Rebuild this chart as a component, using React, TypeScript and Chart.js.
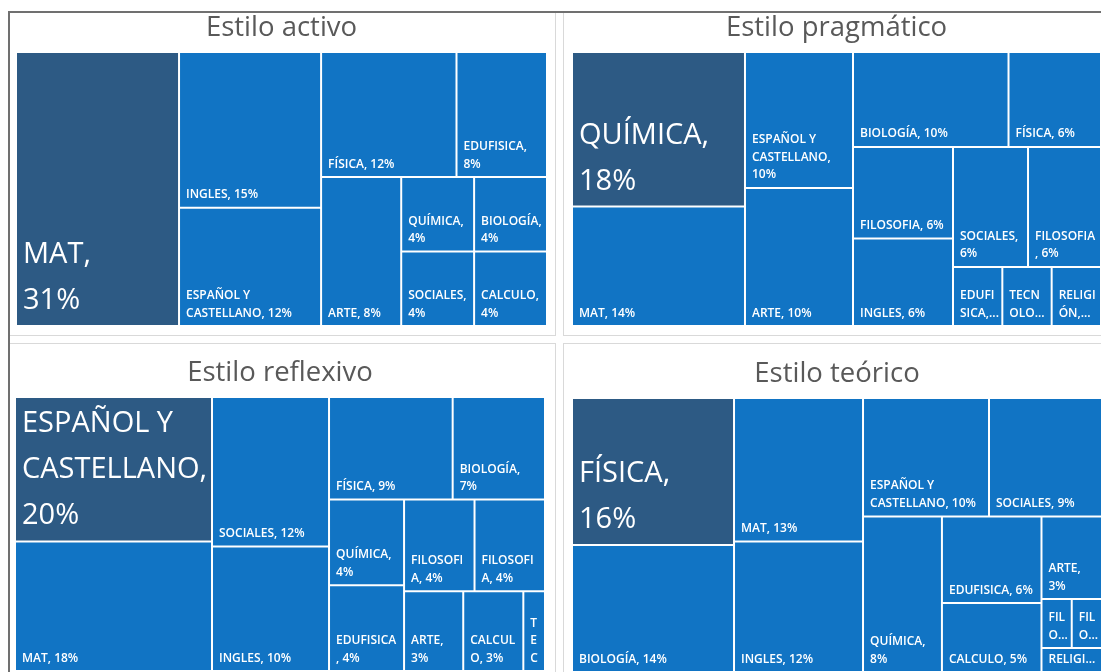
import React, { useEffect, useRef } from 'react';
import { Chart, DatasetController, registerables } from 'chart.js';

Chart.register(...registerables);

// ---------------- DATA (percent of students per subject) ----------------
const activoNames = ['MAT', 'INGLES', 'ESPAÑOL Y CASTELLANO', 'FÍSICA', 'EDUFISICA', 'ARTE', 'QUÍMICA', 'BIOLOGÍA', 'SOCIALES', 'CALCULO'];
const activoValues = [30.7, 15.2, 11.55, 11.64, 7.78, 8.2, 3.73, 3.73, 3.73, 3.73];

const pragmaticoNames = ['QUÍMICA', 'MAT', 'ESPAÑOL Y CASTELLANO', 'ARTE', 'BIOLOGÍA', 'FÍSICA', 'FILOSOFIA', 'INGLES', 'SOCIALES', 'FILOSOFIA ', 'EDUFISICA', 'TECNOLOGÍA', 'RELIGIÓN'];
const pragmaticoValues = [18.44, 14.26, 10.13, 10.29, 10.19, 6.06, 6.31, 6.04, 6.21, 6.04, 2.01, 2.01, 2.01];

const reflexivoNames = ['ESPAÑOL Y CASTELLANO', 'MAT', 'SOCIALES', 'INGLES', 'FÍSICA', 'BIOLOGÍA', 'QUÍMICA', 'EDUFISICA', 'FILOSOFIA', 'FILOSOFIA', 'ARTE', 'CALCULO', 'TECNOLOGÍA'];
const reflexivoValues = [19.6, 17.57, 12.05, 10.03, 8.73, 6.52, 4.43, 4.43, 4.45, 4.45, 3.25, 3.3, 1.19];

const teoricoNames = ['FÍSICA', 'BIOLOGÍA', 'MAT', 'INGLES', 'ESPAÑOL Y CASTELLANO', 'SOCIALES', 'QUÍMICA', 'EDUFISICA', 'CALCULO', 'ARTE', 'FILOSOFIA', 'FILOSOFIA', 'RELIGIÓN'];
const teoricoValues = [16.4, 14.17, 12.75, 11.59, 10.28, 9.22, 8.45, 5.93, 4.73, 3.44, 1.02, 1.02, 1.0];

const titles = ['Estilo activo', 'Estilo pragmático', 'Estilo reflexivo', 'Estilo teórico'];

// ---------------- STYLE ----------------
const BLUE = '#1174C4';
const DARK = '#2D5A84';
const FONT = "'Open Sans', sans-serif";

type Rect = { x: number; y: number; w: number; h: number };

// squarified treemap layout
function squarify(values: number[], W: number, H: number): Rect[] {
  const total = values.reduce((a, b) => a + b, 0);
  const areas = values.map((v) => (v / total) * W * H);
  const out: Rect[] = new Array(values.length);
  let x = 0, y = 0, w = W, h = H;
  let i = 0;
  const worst = (s: number, row: number[]) => {
    const sum = row.reduce((a, b) => a + b, 0);
    const mx = Math.max(...row);
    const mn = Math.min(...row);
    return Math.max((s * s * mx) / (sum * sum), (sum * sum) / (s * s * mn));
  };
  while (i < areas.length) {
    const vertical = w >= h;
    const side = vertical ? h : w;
    let row = [areas[i]];
    let j = i + 1;
    while (j < areas.length) {
      const next = [...row, areas[j]];
      if (worst(side, next) <= worst(side, row)) { row = next; j++; } else break;
    }
    const sum = row.reduce((a, b) => a + b, 0);
    const thick = sum / side;
    let off = 0;
    row.forEach((a, k) => {
      const len = a / thick;
      out[i + k] = vertical ? { x, y: y + off, w: thick, h: len } : { x: x + off, y, w: len, h: thick };
      off += len;
    });
    if (vertical) { x += thick; w -= thick; } else { y += thick; h -= thick; }
    i = j;
  }
  return out;
}

function wrapWords(ctx: CanvasRenderingContext2D, text: string, maxW: number): string[] {
  const words = text.split(' ');
  const lines: string[] = [];
  let cur = '';
  for (const word of words) {
    const cand = cur ? cur + ' ' + word : word;
    if (!cur || ctx.measureText(cand).width <= maxW) cur = cand;
    else { lines.push(cur); cur = word; }
  }
  if (cur) lines.push(cur);
  return lines;
}

function wrapChars(ctx: CanvasRenderingContext2D, text: string, maxW: number): string[] {
  const words = text.split(' ');
  const lines: string[] = [];
  let cur = '';
  for (const word of words) {
    const cand = cur ? cur + ' ' + word : word;
    if (ctx.measureText(cand).width <= maxW) { cur = cand; continue; }
    if (cur) { lines.push(cur); cur = ''; }
    if (ctx.measureText(word).width <= maxW) { cur = word; continue; }
    let piece = '';
    for (const ch of Array.from(word)) {
      if (piece && ctx.measureText(piece + ch).width > maxW) { lines.push(piece); piece = ch; }
      else piece += ch;
    }
    cur = piece;
  }
  if (cur) lines.push(cur);
  return lines;
}

class TreemapController extends (DatasetController as any) {
  static id = 'treemapSq';
  static defaults = { datasetElementType: false, dataElementType: 'bar' };

  update(mode: any) {
    const meta = this._cachedMeta;
    const xScale = meta.xScale;
    const yScale = meta.yScale;
    const area = this.chart.chartArea;
    const W = area.right - area.left;
    const H = area.bottom - area.top;
    const values = (this.getDataset().data as number[]).map(Number);
    const rects = squarify(values, W, H);
    meta.data.forEach((el: any, i: number) => {
      const r = rects[i];
      const l = xScale.getPixelForValue(r.x / W);
      const rr = xScale.getPixelForValue((r.x + r.w) / W);
      const t = yScale.getPixelForValue(r.y / H);
      const b = yScale.getPixelForValue((r.y + r.h) / H);
      this.updateElement(el, i, {
        x: (l + rr) / 2,
        width: rr - l,
        y: t,
        base: b,
        horizontal: false,
        borderSkipped: {},
        inflateAmount: 0,
        options: this.resolveDataElementOptions(i, mode),
      }, mode);
    });
  }

  draw() {
    super.draw();
    const chart = this.chart;
    const ctx: CanvasRenderingContext2D = chart.ctx;
    const meta = this._cachedMeta;
    const values = (this.getDataset().data as number[]).map(Number);
    const labels = chart.data.labels as string[];
    const total = values.reduce((a, b) => a + b, 0);
    meta.data.forEach((el: any, i: number) => {
      const left = el.x - el.width / 2;
      const right = el.x + el.width / 2;
      const top = Math.min(el.y, el.base);
      const bottom = Math.max(el.y, el.base);
      const w = right - left;
      const h = bottom - top;
      const pct = Math.round((values[i] / total) * 100);
      ctx.save();
      ctx.beginPath();
      ctx.rect(left + 1, top + 1, w - 2, h - 2);
      ctx.clip();
      ctx.fillStyle = '#ffffff';
      ctx.textAlign = 'left';
      ctx.textBaseline = 'alphabetic';
      let lines: string[];
      let lineH: number;
      let pad: number;
      if (i === 0) {
        ctx.font = `400 29px ${FONT}`;
        lines = [...wrapWords(ctx, labels[i].trim() + ',', w - 10), pct + '%'];
        lineH = 46;
        pad = 17;
      } else {
        ctx.font = `600 12px ${FONT}`;
        const maxW = w - 12;
        lines = wrapChars(ctx, `${labels[i]}, ${pct}%`, maxW);
        const maxLines = Math.max(1, Math.floor(h / 24));
        if (lines.length > maxLines) {
          lines = lines.slice(0, maxLines);
          const last = lines[maxLines - 1];
          if (maxW < 14) {
            lines[maxLines - 1] = last;
          } else {
            let cut = last;
            while (cut.length > 1 && ctx.measureText(cut + '...').width > maxW + 2) cut = cut.slice(0, -1);
            lines[maxLines - 1] = cut + '...';
          }
        }
        lineH = 17.5;
        pad = 9.5;
      }
      lines.forEach((ln, k) => {
        ctx.fillText(ln, left + 7, bottom - pad - (lines.length - 1 - k) * lineH);
      });
      ctx.restore();
    });
  }
}

Chart.register(TreemapController as any);

interface PanelProps { title: string; names: string[]; values: number[]; left: number; top: number; width: number }

function TreemapPanel({ title, names, values, left, top, width }: PanelProps) {
  const ref = useRef<HTMLCanvasElement>(null);
  useEffect(() => {
    const canvas = ref.current;
    if (!canvas) return;
    const chart = new Chart(canvas, {
      type: 'treemapSq' as any,
      data: {
        labels: names,
        datasets: [{
          data: values,
          backgroundColor: values.map((_, i) => (i === 0 ? DARK : BLUE)),
          borderColor: '#ffffff',
          borderWidth: 1,
        } as any],
      },
      options: {
        responsive: false,
        animation: false,
        events: [],
        layout: { padding: 0 },
        scales: {
          x: { type: 'linear', min: 0, max: 1, display: false },
          y: { type: 'linear', min: 0, max: 1, reverse: true, display: false },
        },
        plugins: {
          legend: { display: false },
          tooltip: { enabled: false },
          title: {
            display: true,
            text: title,
            color: '#595959',
            font: { family: FONT, size: 27.5, weight: 'normal', lineHeight: 1.2 },
            padding: { top: 11.5, bottom: 7.5 },
          },
        },
      } as any,
    });
    return () => chart.destroy();
  }, []);
  return (
    <canvas
      ref={ref}
      width={width}
      height={326}
      style={{ position: 'absolute', left, top, width, height: 326, zIndex: 2 }}
    />
  );
}

const frame = (left: number, top: number, width: number, height: number): React.CSSProperties => ({
  position: 'absolute', left, top, width, height, boxSizing: 'border-box', border: '1px solid #d9d9d9', zIndex: 1,
});

export default function App() {
  return (
    <div style={{ position: 'fixed', left: 0, top: 0, width: 1101, height: 672, overflow: 'hidden', background: '#ffffff' }}>
      <div style={frame(9, 11, 547, 325)} />
      <div style={frame(563, 11, 560, 325)} />
      <div style={frame(9, 343, 547, 400)} />
      <div style={frame(563, 343, 560, 400)} />
      <TreemapPanel title={titles[0]} names={activoNames} values={activoValues} left={16} top={0} width={531} />
      <TreemapPanel title={titles[1]} names={pragmaticoNames} values={pragmaticoValues} left={572} top={0} width={529} />
      <TreemapPanel title={titles[2]} names={reflexivoNames} values={reflexivoValues} left={15} top={345} width={530} />
      <TreemapPanel title={titles[3]} names={teoricoNames} values={teoricoValues} left={572} top={346} width={530} />
      <div style={{ position: 'absolute', left: 8, top: 11, width: 1200, height: 800, borderTop: '2px solid #707070', borderLeft: '2px solid #707070', zIndex: 3, boxSizing: 'border-box' }} />
    </div>
  );
}
